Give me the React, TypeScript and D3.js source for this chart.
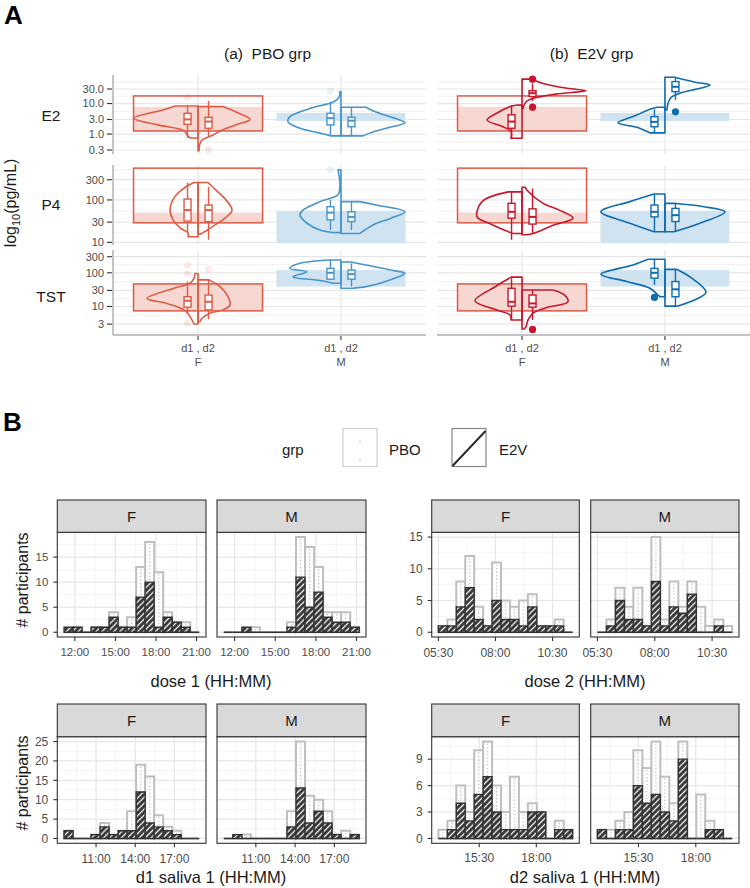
import React from 'react';
import * as d3 from 'd3';

const FONT = '"Liberation Sans", Arial, Helvetica, sans-serif';

// ================= Panel A data (values in log10 pg/mL) =================
const hormones = ['E2', 'P4', 'TST'];
const sexes = ['F', 'M'];
const groups = ['PBO', 'E2V'];
const groupTitles = ['(a)  PBO grp', '(b)  E2V grp'];
const tickValuesE2 = [0.3, 1, 3, 10, 30];
const tickLabelsE2 = ['0.3', '1.0', '3.0', '10.0', '30.0'];
const tickValuesP4 = [10, 30, 100, 300];
const tickLabelsP4 = ['10', '30', '100', '300'];
const tickValuesTST = [3, 10, 30, 100, 300];
const tickLabelsTST = ['3', '10', '30', '100', '300'];

// reference ranges [low, high] in log10 pg/mL
const refOutlineF: Record<string, number[]> = { E2: [0.10, 1.25], P4: [1.46, 2.75], TST: [0.87, 1.67] };
const refFillF: Record<string, number[]> = { E2: [0.10, 0.89], P4: [1.46, 1.70], TST: [0.87, 1.67] };
const refFillM: Record<string, number[]> = { E2: [0.43, 0.69], P4: [0.98, 1.74], TST: [1.59, 2.08] };

// split-violin profiles: [log10 value, relative density]
const violinPBO: Record<string, number[][]> = {
  'F-E2-d1': [[0.92, 23], [0.79, 35], [0.52, 64], [0.30, 40], [0.13, 15], [0.03, 12], [-0.03, 11], [-0.13, 8]],
  'F-E2-d2': [[0.90, 25], [0.72, 38], [0.48, 52], [0.33, 40], [0.23, 32], [0.10, 22], [-0.03, 15], [-0.2, 4], [-0.36, 1.5], [-0.55, 1]],
  'M-E2-d1': [[1.39, 1], [1.2, 2], [1.06, 7], [0.84, 31], [0.57, 51], [0.40, 53], [0.19, 41], [0.03, 21], [-0.06, 10]],
  'M-E2-d2': [[0.88, 25], [0.72, 35], [0.56, 50], [0.37, 64], [0.23, 50], [0.07, 32], [-0.06, 22]],
  'F-P4-d1': [[2.41, 4], [2.28, 14], [2.05, 24], [1.76, 28], [1.53, 25], [1.34, 18], [1.22, 10], [1.13, 10]],
  'F-P4-d2': [[2.41, 10], [2.23, 18], [2.0, 28], [1.76, 34], [1.57, 27], [1.41, 17], [1.27, 8], [1.20, 3]],
  'M-P4-d1': [[2.71, 3], [2.59, 2], [2.35, 1], [2.12, 3], [1.96, 21], [1.76, 38], [1.64, 41], [1.45, 34], [1.29, 21], [1.23, 8]],
  'M-P4-d2': [[1.96, 19], [1.88, 35], [1.72, 64], [1.57, 50], [1.41, 32], [1.21, 19]],
  'F-TST-d1': [[1.98, 3], [1.84, 4], [1.69, 8], [1.54, 24], [1.24, 51], [1.09, 31], [0.90, 14], [0.70, 8], [0.48, 4]],
  'F-TST-d2': [[1.79, 11], [1.59, 22], [1.29, 30], [1.04, 32], [0.90, 25], [0.80, 12], [0.65, 4], [0.55, 2]],
  'M-TST-d1': [[2.38, 11], [2.28, 41], [2.13, 51], [2.03, 34], [1.88, 48], [1.77, 21], [1.69, 8]],
  'M-TST-d2': [[2.32, 10], [2.23, 25], [2.08, 50], [1.98, 64], [1.85, 55], [1.70, 40], [1.59, 25], [1.54, 11]],
};
const violinE2V: Record<string, number[][]> = {
  'F-E2-d1': [[0.95, 4], [0.89, 13], [0.69, 25], [0.46, 35], [0.24, 19], [0.08, 11], [-0.14, 11]],
  'F-E2-d2': [[1.80, 10], [1.66, 21], [1.50, 45], [1.42, 64], [1.31, 34], [1.17, 11], [1.06, 4], [0.84, 1]],
  'M-E2-d1': [[0.88, 8], [0.81, 15], [0.60, 30], [0.37, 47], [0.22, 28], [0.04, 15]],
  'M-E2-d2': [[1.86, 10], [1.70, 30], [1.61, 45], [1.50, 35], [1.34, 15], [1.20, 6], [1.0, 3], [0.79, 2]],
  'F-P4-d1': [[2.19, 14], [1.96, 40], [1.60, 45], [1.45, 33], [1.29, 18], [1.21, 9]],
  'F-P4-d2': [[2.30, 3], [2.23, 5], [1.92, 21], [1.76, 37], [1.57, 51], [1.40, 31], [1.21, 11], [1.18, 4]],
  'M-P4-d1': [[2.14, 11], [1.96, 35], [1.72, 64], [1.45, 35], [1.25, 11]],
  'M-P4-d2': [[1.92, 9], [1.84, 39], [1.72, 60], [1.45, 35], [1.25, 9]],
  'F-TST-d1': [[1.87, 11], [1.60, 26], [1.17, 47], [0.90, 26], [0.75, 12], [0.60, 11]],
  'F-TST-d2': [[1.49, 31], [1.35, 42], [1.14, 46], [0.96, 24], [0.80, 11], [0.60, 6], [0.40, 4], [0.33, 2]],
  'M-TST-d1': [[2.40, 17], [2.23, 32], [1.96, 64], [1.74, 38], [1.54, 15], [1.34, 7], [1.29, 5]],
  'M-TST-d2': [[2.10, 12], [1.88, 25], [1.42, 41], [1.14, 25], [1.01, 12]],
};
// boxplot stats: [lower whisker, q1, median, q3, upper whisker]
const boxPBO: Record<string, number[]> = {
  'F-E2-d1': [-0.13, 0.32, 0.48, 0.68, 0.92], 'F-E2-d2': [-0.06, 0.19, 0.41, 0.55, 1.09],
  'M-E2-d1': [-0.06, 0.30, 0.52, 0.68, 1.06], 'M-E2-d2': [-0.06, 0.24, 0.44, 0.55, 0.88],
  'F-P4-d1': [1.24, 1.50, 1.76, 2.02, 2.41], 'F-P4-d2': [1.06, 1.49, 1.76, 1.88, 2.31],
  'M-P4-d1': [1.29, 1.53, 1.70, 1.84, 2.0], 'M-P4-d2': [1.29, 1.49, 1.60, 1.72, 1.96],
  'F-TST-d1': [0.80, 0.98, 1.17, 1.29, 1.74], 'F-TST-d2': [0.62, 0.90, 1.14, 1.34, 1.79],
  'M-TST-d1': [1.79, 1.81, 2.0, 2.13, 2.38], 'M-TST-d2': [1.59, 1.81, 1.96, 2.08, 2.28],
};
const boxE2V: Record<string, number[]> = {
  'F-E2-d1': [-0.14, 0.19, 0.41, 0.63, 0.95], 'F-E2-d2': [1.09, 1.23, 1.34, 1.42, 1.66],
  'M-E2-d1': [0.04, 0.24, 0.40, 0.57, 0.81], 'M-E2-d2': [1.12, 1.39, 1.55, 1.72, 1.86],
  'F-P4-d1': [1.06, 1.57, 1.72, 1.92, 2.19], 'F-P4-d2': [1.21, 1.43, 1.60, 1.79, 2.27],
  'M-P4-d1': [1.25, 1.60, 1.72, 1.88, 2.14], 'M-P4-d2': [1.25, 1.49, 1.64, 1.80, 1.92],
  'F-TST-d1': [0.60, 1.01, 1.14, 1.54, 1.84], 'F-TST-d2': [0.60, 0.98, 1.09, 1.34, 1.49],
  'M-TST-d1': [1.64, 1.84, 2.0, 2.13, 2.40], 'M-TST-d2': [1.01, 1.29, 1.51, 1.74, 2.10],
};
const outliersPBO: Record<string, number[]> = {
  'F-E2-d1': [1.225], 'F-E2-d2': [-0.52], 'M-E2-d1': [1.42], 'M-P4-d1': [2.71],
  'F-TST-d1': [2.23, 1.98, 0.50], 'F-TST-d2': [2.10],
};
const outliersE2V: Record<string, number[]> = {
  'F-E2-d2': [1.80, 0.88], 'M-E2-d2': [0.73], 'F-TST-d2': [0.32], 'M-TST-d1': [1.27],
};

// ================= Panel B data (histograms, hours of day) =================
const histTitles = ['dose 1 (HH:MM)', 'dose 2 (HH:MM)', 'd1 saliva 1 (HH:MM)', 'd2 saliva 1 (HH:MM)'];
const binStarts = [11.2, 5.5, 8.55, 13.71];
const binWidths = [0.6667, 0.392, 0.69, 0.392];
const xTickHours = [[12, 15, 18, 21], [5.5, 8, 10.5], [11, 14, 17], [15.5, 18]];
const xTickLabels = [['12:00', '15:00', '18:00', '21:00'], ['05:30', '08:00', '10:30'], ['11:00', '14:00', '17:00'], ['15:30', '18:00']];
const yTickCounts = [[0, 5, 10, 15], [0, 5, 10, 15], [0, 5, 10, 15, 20, 25], [0, 3, 6, 9]];

const dose1_F_PBO = [0, 1, 0, 1, 1, 4, 1, 3, 13, 18, 12, 4, 2, 2, 0];
const dose1_F_E2V = [1, 1, 0, 1, 1, 3, 1, 1, 7, 10, 1, 3, 2, 1, 0];
const dose1_M_PBO = [0, 0, 0, 1, 0, 0, 0, 2, 19, 17, 13, 4, 4, 4, 1];
const dose1_M_E2V = [0, 0, 1, 0, 0, 0, 0, 1, 11, 5, 8, 3, 2, 2, 1];
const dose2_F_PBO = [1, 2, 8, 12, 4, 1, 11, 5, 4, 5, 6, 1, 1, 2, 0];
const dose2_F_E2V = [1, 1, 4, 7, 2, 1, 5, 2, 2, 1, 4, 1, 1, 1, 0];
const dose2_M_PBO = [0, 2, 7, 4, 7, 1, 15, 2, 8, 4, 8, 4, 1, 2, 1];
const dose2_M_E2V = [0, 1, 5, 2, 2, 1, 8, 1, 4, 3, 6, 0, 0, 1, 0];
const d1sal_F_PBO = [2, 0, 0, 1, 4, 1, 2, 7, 19, 16, 6, 3, 2, 0, 0];
const d1sal_F_E2V = [2, 0, 0, 1, 3, 1, 2, 2, 12, 4, 3, 2, 1, 0, 0];
const d1sal_M_PBO = [0, 0, 1, 0, 0, 0, 0, 7, 25, 11, 10, 7, 1, 2, 1];
const d1sal_M_E2V = [0, 1, 0, 0, 0, 0, 0, 3, 13, 4, 7, 4, 1, 0, 1];
const d2sal_F_PBO = [1, 2, 6, 3, 10, 11, 6, 3, 7, 3, 4, 3, 0, 2, 1];
const d2sal_F_E2V = [0, 1, 4, 2, 5, 7, 3, 1, 1, 1, 3, 3, 0, 1, 1];
const d2sal_M_PBO = [1, 1, 2, 3, 10, 8, 11, 7, 4, 11, 0, 5, 2, 1, 0];
const d2sal_M_E2V = [1, 0, 1, 1, 6, 4, 5, 3, 2, 9, 0, 0, 1, 1, 0];

const histCounts = [
  { F: { PBO: dose1_F_PBO, E2V: dose1_F_E2V }, M: { PBO: dose1_M_PBO, E2V: dose1_M_E2V } },
  { F: { PBO: dose2_F_PBO, E2V: dose2_F_E2V }, M: { PBO: dose2_M_PBO, E2V: dose2_M_E2V } },
  { F: { PBO: d1sal_F_PBO, E2V: d1sal_F_E2V }, M: { PBO: d1sal_M_PBO, E2V: d1sal_M_E2V } },
  { F: { PBO: d2sal_F_PBO, E2V: d2sal_F_E2V }, M: { PBO: d2sal_M_PBO, E2V: d2sal_M_E2V } },
];

// ================= layout =================
const facetLayout = [
  { x0: 113, x1: 426 },
  { x0: 437, x1: 750 },
];
const rowLayout = [
  { y0: 75, y1: 154, dom: [-0.654, 1.936], tv: tickValuesE2, tl: tickLabelsE2, labelY: 121 },
  { y0: 165, y1: 245, dom: [0.937, 2.824], tv: tickValuesP4, tl: tickLabelsP4, labelY: 210 },
  { y0: 250, y1: 335, dom: [0.154, 2.676], tv: tickValuesTST, tl: tickLabelsTST, labelY: 302 },
];
const colors: Record<string, Record<string, string>> = {
  PBO: { F: '#e05a45', M: '#4895cb' },
  E2V: { F: '#c8162c', M: '#0f6cb0' },
};
const REF_RED = '#dc5a46';
const REF_RED_FILL = '#f6d7d1';
const REF_BLUE_FILL = '#cfe3f1';

const histLayout = [
  { px: [[57.3, 206], [217, 366]], top: 532.3, bot: 637, strip: 500, titleX: 211, titleY: 687, tickFs: 11.5, tickLabY: 656 },
  { px: [[431.7, 579.3], [590.7, 739]], top: 532.3, bot: 637, strip: 500, titleX: 585, titleY: 687, tickFs: 12, tickLabY: 657 },
  { px: [[57.3, 206], [217, 366]], top: 736.7, bot: 843.3, strip: 704, titleX: 211, titleY: 883, tickFs: 12, tickLabY: 863 },
  { px: [[431.7, 579.3], [590.7, 739]], top: 736.7, bot: 843.3, strip: 704, titleX: 585, titleY: 883, tickFs: 12, tickLabY: 862 },
];

const vw = d3.scaleLinear().domain([0, 64]).range([0, 64]);

function halfViolin(pts: number[][], cx: number, side: number, y: (v: number) => number) {
  const line = d3.line<number[]>()
    .x(d => cx + side * vw(d[1]))
    .y(d => y(d[0]))
    .curve(d3.curveCatmullRom.alpha(0.5));
  const inner = line(pts) as string;
  const top = y(pts[0][0]);
  const bot = y(pts[pts.length - 1][0]);
  return `M${cx},${top}L${inner.slice(1)}L${cx},${bot}Z`;
}

function PanelA() {
  const out: React.ReactNode[] = [];
  groups.forEach((g, gi) => {
    const fl = facetLayout[gi];
    const xs = d3.scalePoint<string>().domain(sexes).range([fl.x0, fl.x1]).padding(0.595);
    const vio = gi === 0 ? violinPBO : violinE2V;
    const box = gi === 0 ? boxPBO : boxE2V;
    const outl = gi === 0 ? outliersPBO : outliersE2V;
    hormones.forEach((h, hi) => {
      const rl = rowLayout[hi];
      const ys = d3.scaleLinear().domain(rl.dom).range([rl.y1, rl.y0]);
      const key = `${g}-${h}`;
      const majors = rl.tv.map(v => Math.log10(v));
      const minors: number[] = [];
      for (let i = -1; i < majors.length; i++) {
        const a = i < 0 ? majors[0] - (majors[1] - majors[0]) : majors[i];
        const b = i + 1 < majors.length ? majors[i + 1] : majors[i] + (majors[i] - majors[i - 1]);
        const m = (a + b) / 2;
        if (m > rl.dom[0] && m < rl.dom[1]) minors.push(m);
      }
      minors.forEach((m, i) => out.push(<line key={`${key}-mn${i}`} x1={fl.x0} x2={fl.x1} y1={ys(m)} y2={ys(m)} stroke="#ececec" strokeWidth={0.7} />));
      majors.forEach((m, i) => out.push(<line key={`${key}-mj${i}`} x1={fl.x0} x2={fl.x1} y1={ys(m)} y2={ys(m)} stroke="#e6e6e6" strokeWidth={1.2} />));
      sexes.forEach(s => out.push(<line key={`${key}-vg${s}`} x1={xs(s)} x2={xs(s)} y1={rl.y0} y2={rl.y1} stroke="#e6e6e6" strokeWidth={1.2} />));
      const fx = xs('F')!, mx = xs('M')!;
      const rf = refFillF[h], ro = refOutlineF[h], rm = refFillM[h];
      out.push(<rect key={`${key}-rff`} x={fx - 64.5} width={129} y={ys(rf[1])} height={ys(rf[0]) - ys(rf[1])} fill={REF_RED_FILL} />);
      out.push(<rect key={`${key}-rfm`} x={mx - 64.5} width={129} y={ys(rm[1])} height={ys(rm[0]) - ys(rm[1])} fill={REF_BLUE_FILL} />);
      out.push(<rect key={`${key}-rfo`} x={fx - 64.5} width={129} y={ys(ro[1])} height={ys(ro[0]) - ys(ro[1])} fill="none" stroke={REF_RED} strokeWidth={1.5} />);
      sexes.forEach(s => {
        const cx = xs(s)!;
        const col = colors[g][s];
        ['d1', 'd2'].forEach((d, di) => {
          const k = `${s}-${h}-${d}`;
          const side = di === 0 ? -1 : 1;
          out.push(<path key={`${key}-v${k}`} d={halfViolin(vio[k], cx, side, ys)} fill="none" stroke={col} strokeWidth={1.6} strokeLinejoin="round" />);
        });
        ['d1', 'd2'].forEach((d, di) => {
          const k = `${s}-${h}-${d}`;
          const bx = cx + (di === 0 ? -10.5 : 10.5);
          const b = box[k];
          out.push(<g key={`${key}-b${k}`} stroke={col} strokeWidth={1.4}>
            <line x1={bx} x2={bx} y1={ys(b[4])} y2={ys(b[3])} />
            <line x1={bx} x2={bx} y1={ys(b[1])} y2={ys(b[0])} />
            <rect x={bx - 3.5} width={7} y={ys(b[3])} height={ys(b[1]) - ys(b[3])} fill="#fff" />
            <line x1={bx - 3.5} x2={bx + 3.5} y1={ys(b[2])} y2={ys(b[2])} strokeWidth={2} />
          </g>);
          (outl[k] || []).forEach((o, oi) => out.push(
            <circle key={`${key}-o${k}${oi}`} cx={bx} cy={ys(o)} r={3.6} fill={col} fillOpacity={gi === 0 ? 0.12 : 1} />
          ));
        });
      });
      if (gi === 0) {
        out.push(<line key={`${key}-yax`} x1={fl.x0} x2={fl.x0} y1={rl.y0} y2={rl.y1} stroke="#c4c4c4" strokeWidth={2} />);
        rl.tv.forEach((v, i) => {
          const y = ys(Math.log10(v));
          out.push(<line key={`${key}-yt${i}`} x1={fl.x0 - 6} x2={fl.x0 - 1} y1={y} y2={y} stroke="#333" strokeWidth={1.1} />);
          out.push(<text key={`${key}-ytl${i}`} x={fl.x0 - 9} y={y} dy="0.35em" textAnchor="end" fontSize={11} fill="#4d4d4d">{rl.tl[i]}</text>);
        });
      }
    });
    const yb = rowLayout[2].y1;
    out.push(<line key={`${g}-xax`} x1={fl.x0} x2={fl.x1} y1={yb} y2={yb} stroke="#c4c4c4" strokeWidth={2} />);
    sexes.forEach(s => {
      const x = xs(s)!;
      out.push(<line key={`${g}-xt${s}`} x1={x} x2={x} y1={yb + 1} y2={yb + 5} stroke="#333" strokeWidth={1.1} />);
      out.push(<text key={`${g}-xl1${s}`} x={x} y={352} textAnchor="middle" fontSize={11} fill="#4d4d4d" style={{ whiteSpace: 'pre' }}>d1 , d2</text>);
      out.push(<text key={`${g}-xl2${s}`} x={x} y={365.5} textAnchor="middle" fontSize={11} fill="#4d4d4d">{s}</text>);
    });
    out.push(<text key={`${g}-title`} x={(fl.x0 + fl.x1) / 2 - 2} y={58.5} textAnchor="middle" fontSize={15.5} fill="#1a1a1a" style={{ whiteSpace: 'pre' }}>{groupTitles[gi]}</text>);
  });
  hormones.forEach((h, hi) => out.push(
    <text key={`rl${h}`} x={51} y={rowLayout[hi].labelY} textAnchor="middle" fontSize={15.5} fill="#1a1a1a">{h}</text>
  ));
  out.push(<text key="ytitle" transform="translate(16,203) rotate(-90)" textAnchor="middle" fontSize={16} fill="#1a1a1a">
    log<tspan fontSize={11} dy={4}>10</tspan><tspan dy={-4}>(pg/mL)</tspan>
  </text>);
  return <g>{out}</g>;
}

function Histograms() {
  const out: React.ReactNode[] = [];
  histCounts.forEach((hc, hi) => {
    const L = histLayout[hi];
    const start = binStarts[hi], w = binWidths[hi];
    const n = hc.F.PBO.length;
    const end = start + n * w;
    const pad = (end - start) * 0.05;
    const maxC = d3.max([...hc.F.PBO, ...hc.F.E2V, ...hc.M.PBO, ...hc.M.E2V]) as number;
    const ys = d3.scaleLinear().domain([-maxC * 0.05, maxC * 1.05]).range([L.bot, L.top]);
    const yt = yTickCounts[hi];
    const ytMinor = yt.map(v => v + (yt[1] - yt[0]) / 2).filter(v => v < maxC * 1.05);
    sexes.forEach((s, si) => {
      const [x0, x1] = L.px[si];
      const xs = d3.scaleLinear().domain([start - pad, end + pad]).range([x0, x1]);
      const xt = xTickHours[hi];
      const step = xt[1] - xt[0];
      const xtMinor = [xt[0] - step / 2, ...xt.map(v => v + step / 2)].filter(v => v > start - pad && v < end + pad);
      const k = `h${hi}${s}`;
      out.push(<rect key={`${k}-bg`} x={x0} y={L.top} width={x1 - x0} height={L.bot - L.top} fill="#fff" />);
      xtMinor.forEach((v, i) => out.push(<line key={`${k}-xm${i}`} x1={xs(v)} x2={xs(v)} y1={L.top} y2={L.bot} stroke="#efefef" strokeWidth={0.7} />));
      ytMinor.forEach((v, i) => out.push(<line key={`${k}-ym${i}`} x1={x0} x2={x1} y1={ys(v)} y2={ys(v)} stroke="#efefef" strokeWidth={0.7} />));
      xt.forEach((v, i) => out.push(<line key={`${k}-xM${i}`} x1={xs(v)} x2={xs(v)} y1={L.top} y2={L.bot} stroke="#e6e6e6" strokeWidth={1.2} />));
      yt.forEach((v, i) => out.push(<line key={`${k}-yM${i}`} x1={x0} x2={x1} y1={ys(v)} y2={ys(v)} stroke="#e6e6e6" strokeWidth={1.2} />));
      const counts = (hc as any)[s];
      const base = ys(0);
      counts.PBO.forEach((c: number, i: number) => {
        const a = xs(start + i * w), b = xs(start + (i + 1) * w), top = ys(c);
        out.push(<path key={`${k}-p${i}`} d={`M${a},${base}V${top}H${b}V${base}Z`} fill="#fff" stroke="#bfbfbf" strokeWidth={2} />);
        if (c > 0) out.push(<line key={`${k}-pd${i}`} x1={(a + b) / 2} x2={(a + b) / 2} y1={top + 2} y2={base} stroke="#c4c4c4" strokeWidth={1.3} strokeDasharray="1.3 2.2" />);
      });
      counts.E2V.forEach((c: number, i: number) => {
        const a = xs(start + i * w), b = xs(start + (i + 1) * w), top = ys(c);
        out.push(<path key={`${k}-e${i}`} d={`M${a},${base}V${top}H${b}V${base}Z`} fill="url(#hatch)" stroke="#333" strokeWidth={1.4} />);
      });
      out.push(<rect key={`${k}-border`} x={x0} y={L.top} width={x1 - x0} height={L.bot - L.top} fill="none" stroke="#333" strokeWidth={1.1} />);
      out.push(<rect key={`${k}-strip`} x={x0} y={L.strip} width={x1 - x0} height={L.top - L.strip} fill="#d9d9d9" stroke="#333" strokeWidth={1.1} />);
      out.push(<text key={`${k}-stl`} x={(x0 + x1) / 2} y={(L.strip + L.top) / 2} dy="0.36em" textAnchor="middle" fontSize={15} fill="#1a1a1a">{s}</text>);
      xt.forEach((v, i) => {
        out.push(<line key={`${k}-xt${i}`} x1={xs(v)} x2={xs(v)} y1={L.bot} y2={L.bot + 4} stroke="#333" strokeWidth={1.1} />);
        out.push(<text key={`${k}-xtl${i}`} x={xs(v)} y={L.tickLabY} textAnchor="middle" fontSize={L.tickFs} fill="#4d4d4d">{xTickLabels[hi][i]}</text>);
      });
      if (si === 0) {
        yt.forEach((v, i) => {
          out.push(<line key={`${k}-yt${i}`} x1={x0 - 4} x2={x0} y1={ys(v)} y2={ys(v)} stroke="#333" strokeWidth={1.1} />);
          out.push(<text key={`${k}-ytl${i}`} x={x0 - 9} y={ys(v)} dy="0.35em" textAnchor="end" fontSize={L.tickFs} fill="#4d4d4d">{v}</text>);
        });
      }
    });
    out.push(<text key={`ht${hi}`} x={L.titleX} y={L.titleY} textAnchor="middle" fontSize={16.5} fill="#1a1a1a">{histTitles[hi]}</text>);
  });
  out.push(<text key="yl1" transform="translate(28,580) rotate(-90)" textAnchor="middle" fontSize={16} fill="#1a1a1a"># participants</text>);
  out.push(<text key="yl2" transform="translate(28,783) rotate(-90)" textAnchor="middle" fontSize={16} fill="#1a1a1a"># participants</text>);
  return <g>{out}</g>;
}

function Legend() {
  return (
    <g>
      <text x={282} y={455} fontSize={15} fill="#1a1a1a">grp</text>
      <rect x={343} y={428.5} width={34} height={38} fill="#fff" stroke="#cfcfcf" strokeWidth={1.2} />
      <circle cx={360} cy={441.5} r={0.8} fill="#aaa" />
      <circle cx={360} cy={460} r={0.8} fill="#aaa" />
      <text x={389} y={455} fontSize={15} fill="#1a1a1a">{groups[0]}</text>
      <rect x={452} y={428.5} width={34} height={38} fill="#fff" stroke="#888" strokeWidth={1.2} />
      <line x1={452.5} y1={466} x2={485.5} y2={431} stroke="#2b2b2b" strokeWidth={2} />
      <text x={499} y={455} fontSize={15} fill="#1a1a1a">{groups[1]}</text>
    </g>
  );
}

export default function App() {
  return (
    <svg width={750} height={888} style={{ position: 'absolute', left: 0, top: 0, background: '#fff' }} fontFamily={FONT}>
      <defs>
        <pattern id="hatch" width={4.2} height={4.2} patternUnits="userSpaceOnUse" patternTransform="rotate(45)">
          <rect width={4.2} height={4.2} fill="#333" />
          <line x1={2.1} y1={0} x2={2.1} y2={4.2} stroke="#fff" strokeWidth={1.3} />
        </pattern>
      </defs>
      <rect width={750} height={888} fill="#fff" />
      <text x={4} y={24} fontSize={26} fontWeight="bold" fill="#000">A</text>
      <text x={3} y={430.5} fontSize={26} fontWeight="bold" fill="#000">B</text>
      <PanelA />
      <Legend />
      <Histograms />
    </svg>
  );
}
